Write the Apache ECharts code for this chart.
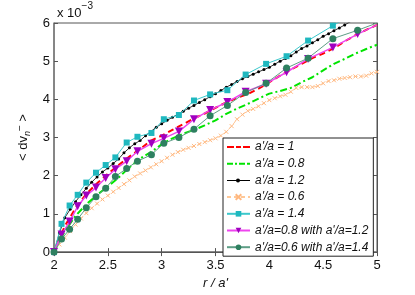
<!DOCTYPE html>
<html><head><meta charset="utf-8">
<script src="https://cdn.jsdelivr.net/npm/echarts@6/dist/echarts.min.js"></script>
<style>html,body{margin:0;padding:0;background:#fff}#c{width:415px;height:295px}</style>
</head><body><div id="c"></div>
<script>
// x positions
const markerX = [2.0, 2.07, 2.145, 2.22, 2.30, 2.39, 2.48, 2.57, 2.675, 2.775, 2.905, 3.02, 3.16, 3.30, 3.45, 3.61, 3.78, 3.97, 4.16, 4.36, 4.59, 4.82, 5.0];
const stepX10 = [2.0,2.1,2.2,2.3,2.4,2.5,2.6,2.7,2.8,2.9,3.0,3.1,3.2,3.3,3.4,3.5,3.6,3.7,3.8,3.9,4.0,4.1,4.2,4.3,4.4,4.5,4.6,4.7,4.8,4.9,5.0];
const stepX20 = [2.0,2.05,2.1,2.15,2.2,2.25,2.3,2.35,2.4,2.45,2.5,2.55,2.6,2.65,2.7,2.75,2.8,2.85,2.9,2.95,3.0,3.05,3.1,3.15,3.2,3.25,3.3,3.35,3.4,3.45,3.5,3.55,3.6,3.65,3.7,3.75,3.8,3.85,3.9,3.95,4.0,4.05,4.1,4.15,4.2,4.25,4.3,4.35,4.4,4.45,4.5,4.55,4.6,4.65,4.7,4.75,4.8,4.85,4.9,4.95,5.0];

// values (x 1e-3)
const ratio1 = [0,0.68,1.15,1.52,1.80,2.05,2.28,2.50,2.70,2.92,3.05,3.20,3.35,3.50,3.63,3.78,3.92,4.04,4.14,4.28,4.45,4.62,4.78,4.93,5.08,5.20,5.34,5.52,5.68,5.82,5.95];
const ratio08 = [0,0.55,0.95,1.25,1.50,1.72,1.95,2.22,2.45,2.62,2.82,2.98,3.10,3.20,3.32,3.45,3.62,3.76,3.88,4.02,4.15,4.22,4.30,4.45,4.58,4.76,4.93,5.06,5.20,5.32,5.43];
const ratio12 = [0,0.50,0.90,1.12,1.32,1.50,1.67,1.83,1.97,2.10,2.20,2.32,2.44,2.60,2.73,2.84,2.92,3.05,3.16,3.27,3.36,3.45,3.53,3.61,3.69,3.77,3.84,3.92,3.99,4.07,4.15,4.23,4.32,4.39,4.47,4.54,4.60,4.66,4.72,4.78,4.84,4.92,5.00,5.07,5.14,5.24,5.33,5.40,5.48,5.56,5.65,5.72,5.80,5.87,5.95,6.03,6.10,6.17,6.24,6.31,6.38];
const ratio06 = [0,0.20,0.38,0.55,0.72,0.88,1.02,1.15,1.27,1.38,1.48,1.58,1.68,1.78,1.88,1.98,2.06,2.14,2.22,2.30,2.38,2.47,2.55,2.62,2.68,2.73,2.78,2.83,2.88,2.93,2.98,3.05,3.15,3.30,3.48,3.60,3.70,3.75,3.82,3.90,3.98,4.03,4.08,4.12,4.20,4.30,4.32,4.32,4.32,4.35,4.42,4.48,4.50,4.54,4.56,4.58,4.60,4.60,4.62,4.68,4.72];
const ratio14 = [0,0.74,1.22,1.50,1.82,2.08,2.28,2.48,2.87,3.02,3.12,3.48,3.59,3.97,4.13,4.24,4.65,4.93,5.13,5.54,5.93,6.30,6.60];
const mix08_12 = [0,0.46,0.80,1.20,1.48,1.69,1.94,2.17,2.38,2.64,2.84,2.98,3.16,3.48,3.72,3.93,4.20,4.41,4.71,5.06,5.36,5.71,5.95];
const mix06_14 = [0,0.34,0.60,0.86,1.16,1.45,1.67,1.98,2.19,2.38,2.55,2.85,3.00,3.22,3.57,3.84,4.18,4.42,4.82,5.08,5.59,5.81,6.00];

const xTicks = [2, 2.5, 3, 3.5, 4, 4.5, 5];
const yTicks = [0, 1, 2, 3, 4, 5, 6];
const names = ["a'/a = 1", "a'/a = 0.8", "a'/a = 1.2", "a'/a = 0.6", "a'/a = 1.4", "a'/a=0.8 with a'/a=1.2", "a'/a=0.6 with a'/a=1.4"];

function pairs(xs, ys, lastNoSymbol) {
  return ys.map((v, i) => {
    if (lastNoSymbol && i === ys.length - 1) return { value: [xs[i], v], symbol: 'none' };
    return [xs[i], v];
  });
}

const FONT = 'Liberation Sans';
const chart = echarts.init(document.getElementById('c'), null, { renderer: 'canvas' });

const axisCommon = {
  axisLine: { show: true, lineStyle: { color: '#7a7a7a', width: 1.5 } },
  axisTick: { show: true, inside: true, length: 4, lineStyle: { color: '#555', width: 1 } },
  splitLine: { show: false },
};

chart.setOption({
  animation: false,
  backgroundColor: '#fff',
  grid: { left: 54, right: 38, top: 23, bottom: 35, show: true, borderColor: '#555', borderWidth: 1 },
  xAxis: [
    Object.assign({}, axisCommon, {
      type: 'value', min: 2, max: 5, interval: 0.5,
      axisLabel: { color: '#111', fontFamily: FONT, fontSize: 13, margin: 7, formatter: v => String(v) },
      name: "r / a'", nameLocation: 'middle', nameGap: 21,
      nameTextStyle: { color: '#111', fontFamily: FONT, fontSize: 13, fontStyle: 'italic' }
    }),
    Object.assign({}, axisCommon, {
      type: 'value', min: 2, max: 5, interval: 0.5, position: 'top',
      axisLine: { show: true, lineStyle: { color: '#555', width: 1 } },
      axisLabel: { show: false }
    })
  ],
  yAxis: [
    Object.assign({}, axisCommon, {
      type: 'value', min: 0, max: 6, interval: 1,
      axisLabel: { color: '#111', fontFamily: FONT, fontSize: 13, margin: 4 },
      name: '< dv{s|n}{p|−} >', nameLocation: 'middle', nameGap: 21, nameRotate: 90,
      nameTextStyle: {
        color: '#111', fontFamily: FONT, fontSize: 13,
        rich: {
          s: { fontSize: 9, fontFamily: FONT, fontStyle: 'italic', color: '#111', padding: [7, 0, 0, 0] },
          p: { fontSize: 10, fontFamily: FONT, color: '#111', padding: [0, 0, 8, 0] }
        }
      }
    }),
    Object.assign({}, axisCommon, {
      type: 'value', min: 0, max: 6, interval: 1, position: 'right',
      axisLine: { show: true, lineStyle: { color: '#555', width: 1 } },
      axisLabel: { show: false }
    })
  ],
  graphic: [{
    type: 'text', left: 57, top: 1,
    style: {
      text: '{a|x 10}{b|−3}',
      fill: '#111',
      rich: {
        a: { fontFamily: FONT, fontSize: 13, fill: '#111', padding: [8, 0, 0, 0] },
        b: { fontFamily: FONT, fontSize: 10, fill: '#111', padding: [0, 0, 6, 0] }
      }
    }
  }],
  legend: {
    orient: 'vertical', left: 223, top: 138,
    padding: [3, 5, 3, 3], itemGap: 4.7, itemWidth: 23, itemHeight: 7, itemTextGap: 4,
    backgroundColor: '#fff', borderColor: '#222', borderWidth: 1, borderRadius: 0,
    textStyle: { fontFamily: FONT, fontSize: 12, fontStyle: 'italic', color: '#111', lineHeight: 12 },
    data: [
      { name: names[0], icon: 'path://M0,0h7v2h-7zM9,0h5v2h-5zM16,0h7v2h-7z' },
      { name: names[1], icon: 'path://M0,0h6v2h-6zM8,0h2v2h-2zM12,0h6v2h-6zM20,0h3v2h-3z' },
      { name: names[2], icon: 'path://M0,4h23v1h-23zM13,4.5a2,2 0 1,1 -4,0a2,2 0 1,1 4,0z' },
      { name: names[3] },
      { name: names[4] },
      { name: names[5] },
      { name: names[6] }
    ]
  },
  series: [
    { name: names[0], type: 'line', data: pairs(stepX10, ratio1), showSymbol: false, symbol: 'none',
      lineStyle: { color: '#ff0000', width: 2, type: [6, 4] }, itemStyle: { color: '#ff0000' }, z: 2 },
    { name: names[1], type: 'line', data: pairs(stepX10, ratio08), showSymbol: false, symbol: 'none',
      lineStyle: { color: '#00e400', width: 2, type: [7, 3, 2, 3] }, itemStyle: { color: '#00e400' }, z: 2 },
    { name: names[2], type: 'line', data: pairs(stepX20, ratio12), symbol: 'circle', symbolSize: 3,
      lineStyle: { color: '#333', width: 1 }, itemStyle: { color: '#000' }, z: 3 },
    { name: names[3], type: 'line', data: pairs(stepX20, ratio06), symbol: 'path://M0,0L10,10M10,0L0,10', symbolSize: 4,
      lineStyle: { color: '#ffc898', width: 1, type: [4, 3] }, itemStyle: { color: 'none', borderColor: '#ffb880', borderWidth: 1 }, z: 2 },
    { name: names[4], type: 'line', data: pairs(markerX, ratio14, true), symbol: 'rect', symbolSize: 6,
      lineStyle: { color: '#3cc8cc', width: 1 }, itemStyle: { color: '#1fb8bf' }, z: 4 },
    { name: names[5], type: 'line', data: pairs(markerX, mix08_12, true), symbol: 'triangle', symbolRotate: 180, symbolSize: 8,
      lineStyle: { color: '#ee44ee', width: 1.5 }, itemStyle: { color: '#a000c0' }, z: 5 },
    { name: names[6], type: 'line', data: pairs(markerX, mix06_14, true), symbol: 'circle', symbolSize: 7,
      lineStyle: { color: '#5e9e86', width: 1 }, itemStyle: { color: '#2e8060' }, z: 5 }
  ]
});
</script>
</body></html>
